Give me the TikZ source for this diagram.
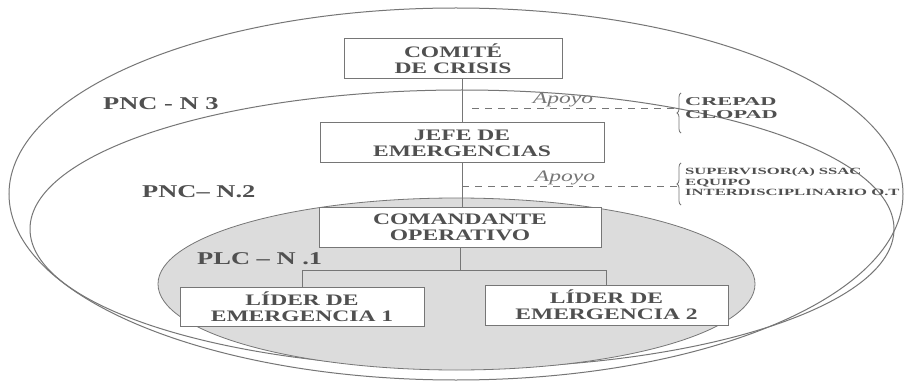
\documentclass[tikz,border=0pt]{standalone}
\usepackage{fontspec}
\setmainfont{Liberation Serif}[FakeStretch=1.47]
\newfontfamily\crepadfont{Liberation Serif}[FakeStretch=1.86]
\newfontfamily\ssacfont{Liberation Serif}[FakeStretch=1.75]
\usetikzlibrary{decorations.pathreplacing}
\definecolor{linegray}{HTML}{767676}
\definecolor{inkgray}{HTML}{505050}
\definecolor{plcfill}{HTML}{DCDCDC}

\begin{document}
\begin{tikzpicture}[x=1pt,y=-1pt,
    cargo/.style={draw=linegray,fill=white,line width=1pt,minimum height=40pt,inner sep=0pt,
      align=center,text=inkgray,font=\fontsize{16}{16}\selectfont\bfseries},
    nivel/.style={anchor=base west,inner sep=0pt,text=inkgray,font=\fontsize{18}{18}\selectfont\bfseries},
    apoyo/.style={anchor=base,inner sep=0pt,text=linegray,font=\fontsize{16}{16}\selectfont\itshape},
    grupo/.style={anchor=base west,inner sep=0pt,text=inkgray},
    enlace/.style={draw=linegray,line width=1pt},
    punteado/.style={draw=linegray,line width=1pt,dash pattern=on 7pt off 6pt},
    llave/.style={draw=linegray,line width=0.8pt,decorate,decoration={brace,amplitude=4pt}},
    ]
    \useasboundingbox[fill=white] (0,0) rectangle (904,382);
    \draw[enlace] (456,194) ellipse [x radius=447,y radius=186];
    \draw[enlace] (462,229) ellipse [x radius=432,y radius=139];
    \draw[draw=linegray,line width=0.8pt,fill=plcfill] (456.5,284) ellipse [x radius=298.5,y radius=86];

    \node[cargo,minimum width=218pt] (crisis) at (453,59) {COMITÉ\\DE CRISIS};
    \node[cargo,minimum width=284pt] (jefe) at (462,143) {JEFE DE\\EMERGENCIAS};
    \node[cargo,minimum width=282pt] (comandante) at (460,227) {COMANDANTE\\OPERATIVO};
    \node[cargo,minimum width=244pt,minimum height=39pt] (lider1) at (302,306.5) {LÍDER DE\\EMERGENCIA 1};
    \node[cargo,minimum width=243pt] (lider2) at (606.5,305) {LÍDER DE\\EMERGENCIA 2};

    \draw[enlace] (jefe.north) -- (jefe.north |- crisis.south);
    \draw[enlace] (jefe.south) -- (jefe.south |- comandante.north);
    \draw[enlace] (comandante.south) -- ++(0,23) coordinate (rama);
    \draw[enlace] (lider1.north) |- (rama) -| (lider2.north);

    \node[nivel] (n3) at (103,110) {PNC - N 3};
    \node[nivel] (n2) at (142,197) {PNC– N.2};
    \node[nivel] (n1) at (197,264) {PLC – N .1};

    \node[apoyo] (apoyo1) at (563,104) {Apoyo};
    \node[apoyo] (apoyo2) at (565,182) {Apoyo};
    \coordinate (desde1) at (472,109);
    \coordinate (desde2) at (jefe.south |- 0,187);
    \draw[llave] (681,133) -- (681,93) coordinate[midway,xshift=-4pt] (punta1);
    \draw[llave] (681,205) -- (681,163) coordinate[midway,xshift=-4pt] (punta2);
    \draw[punteado] (desde1) -- (desde1 -| punta1);
    \draw[punteado] (desde2) -- (desde2 -| punta2);

    \node[grupo,font=\crepadfont\fontsize{12}{12}\selectfont\bfseries] (crepad) at (685,106) {CREPAD};
    \node[grupo,font=\crepadfont\fontsize{12}{12}\selectfont\bfseries] (clopad) at (685,119) {CLOPAD};
    \node[grupo,font=\ssacfont\fontsize{9.5}{9.5}\selectfont\bfseries] (ssac) at (685,175) {SUPERVISOR(A) SSAC};
    \node[grupo,font=\ssacfont\fontsize{9.5}{9.5}\selectfont\bfseries] (equipo) at (685,185.5) {EQUIPO};
    \node[grupo,font=\ssacfont\fontsize{9.5}{9.5}\selectfont\bfseries] (interdis) at (685,196) {INTERDISCIPLINARIO O.T};
\end{tikzpicture}
\end{document}
